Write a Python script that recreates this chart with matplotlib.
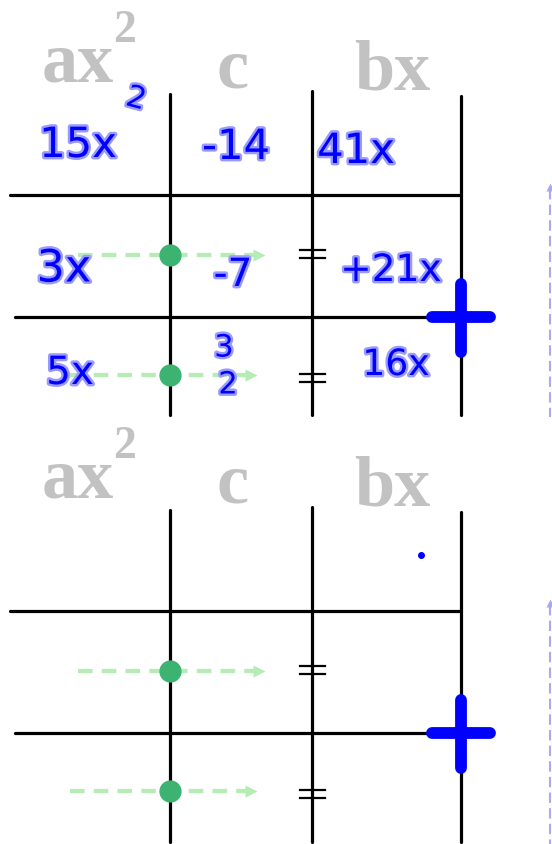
import matplotlib.pyplot as plt
import matplotlib.patheffects as pe

# layout of one box-method panel, in image pixels (y down)
panel_offsets = [0, 416]
panel_bottom = [418, 845]

headings = ['ax', 'c', 'bx']
heading_x = [42, 233, 392]
heading_y = [82, 87, 90]
heading_ha = ['left', 'center', 'center']

col_x = [170, 312, 461]
col_top = [95, 92, 97]
row_y = [196, 318]
row_x0 = [10, 15]

dot_y = [256, 376]
arrow_x0 = [78, 70]
arrow_x1 = [263, 255]
eq_y = [255, 379]

# handwriting on the first panel
hand_text = ['15x', '-14', '41x', '3x', '-7', '+21x', '5x', '3', '2', '16x']
hand_x = [78, 236, 356, 64, 233, 391, 70, 224, 228, 396]
hand_y = [146, 148, 152, 270, 276, 272, 374, 349, 386, 366]
hand_size = [30, 30, 30, 32, 28, 27, 28, 22, 22, 26]

fig = plt.figure(figsize=(5.52, 8.45), dpi=100)
ax = fig.add_axes([0, 0, 1, 1])
ax.set_xlim(0, 552)
ax.set_ylim(845, 0)
ax.axis('off')

grey = '#c2c2c2'
blue = '#0000ff'
halo = [pe.withStroke(linewidth=3.5, foreground='#9a9aff')]

for k, off in enumerate(panel_offsets):
    bot = panel_bottom[k]
    for name, x, y, ha in zip(headings, heading_x, heading_y, heading_ha):
        ax.text(x, y + off, name, color=grey, family='Liberation Serif',
                weight='bold', fontsize=52, ha=ha, va='baseline')
    ax.text(113, 42 + off, '2', color=grey, family='Liberation Serif',
            weight='bold', fontsize=33, ha='left', va='baseline')

    # grid
    for x, y0 in zip(col_x, col_top):
        ax.plot([x, x], [y0 + off, bot - 2], color='black', lw=2.3,
                solid_capstyle='round')
    for y, x0 in zip(row_y, row_x0):
        ax.plot([x0, col_x[2]], [y + off, y + off], color='black', lw=2.3,
                solid_capstyle='round')

    # green dashed arrows with dots
    for y, xa, xb in zip(dot_y, arrow_x0, arrow_x1):
        ax.plot([xa, xb - 8], [y + off, y + off], color='#b4ecb4', lw=3,
                ls=(0, (3.5, 2.2)), zorder=3)
        ax.plot(xb - 4, y + off, marker='>', ms=9, color='#b4ecb4',
                mec='none', zorder=3)
        ax.plot(col_x[0], y + off, 'o', ms=15, color='#3cb371', zorder=4)

    # equals marks
    for y in eq_y:
        for d in (-4, 4):
            ax.plot([300, 325], [y + d + off, y + d + off], color='black', lw=1.6)

    # blue plus
    ax.plot([432, 490], [row_y[1] + off, row_y[1] + off], color=blue, lw=8.5,
            solid_capstyle='round', zorder=5)
    ax.plot([col_x[2], col_x[2]], [row_y[1] - 33 + off, row_y[1] + 35 + off],
            color=blue, lw=8.5, solid_capstyle='round', zorder=5)

    # lavender dashed guide on the right edge
    ax.plot([550, 550], [190 + off, bot], color='#aaaaf2', lw=1.5,
            ls=(0, (5, 2.5)), clip_on=False)
    ax.plot(550, 188 + off, marker='^', ms=6, color='#aaaaf2', mec='none')

for s, x, y, fs in zip(hand_text, hand_x, hand_y, hand_size):
    ax.text(x, y, s, color=blue, fontsize=fs, ha='center', va='center',
            family='DejaVu Sans', path_effects=halo, zorder=6)
ax.text(136, 100, '2', color=blue, fontsize=22, ha='center', va='center',
        rotation=-15, path_effects=halo, zorder=6)

# stray pen dot on the second panel
ax.plot(421, 556, 'o', ms=4, color=blue)

fig.savefig('out.png', dpi=100)
